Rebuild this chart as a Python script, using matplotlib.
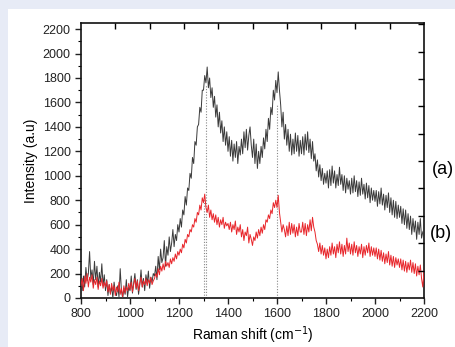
import numpy as np
import matplotlib
matplotlib.use("Agg")
import matplotlib.pyplot as plt
from matplotlib.patches import Rectangle
from matplotlib.ticker import MultipleLocator

plt.rcParams['font.family'] = ['Liberation Sans', 'DejaVu Sans']

shift = list(range(800, 2201, 5))

intensity_a = [
    120, 60, 180, 90, 250, 140, 200, 380, 160, 230, 110, 300, 150, 260, 90, 210, 130, 280, 100, 190,
    60, 150, 20, 110, 40, 90, 0, 130, 50, 20, 100, 10, 240, 60, 0, 80, 30, 150, 10, 90,
    60, 180, 40, 120, 200, 70, 150, 30, 110, 230, 90, 160, 60, 190, 120, 220, 80, 170, 130, 200,
    180, 260, 150, 340, 230, 400, 290, 330, 470, 260, 420, 350, 500, 380, 450, 560, 420, 520, 470, 600,
    540, 650, 580, 720, 680, 830, 760, 900, 880, 1020, 980, 1150, 1100, 1280, 1250, 1400, 1420, 1560, 1520, 1700,
    1700, 1820, 1760, 1890, 1720, 1800, 1640, 1720, 1560, 1650, 1480, 1580, 1400, 1520, 1350, 1450, 1280, 1400, 1250, 1360,
    1200, 1320, 1160, 1290, 1120, 1260, 1150, 1280, 1100, 1240, 1170, 1300, 1180, 1360, 1230, 1380, 1210, 1330, 1400, 1250,
    1150, 1300, 1100, 1260, 1060, 1200, 1100, 1240, 1150, 1310, 1220, 1380, 1280, 1470, 1380, 1560, 1500, 1700, 1620, 1780,
    1680, 1850, 1700, 1580, 1400, 1520, 1300, 1420, 1250, 1380, 1200, 1340, 1170, 1300, 1180, 1350, 1200, 1330, 1160, 1290,
    1180, 1320, 1170, 1340, 1210, 1360, 1190, 1300, 1140, 1280, 1120, 1180, 1040, 1130, 990, 1090, 960, 1060, 930, 1020,
    940, 1040, 900, 1050, 920, 1080, 940, 1040, 900, 1010, 920, 1070, 930, 1010, 880, 1000, 860, 980, 890, 960,
    850, 980, 860, 1000, 870, 960, 830, 950, 840, 980, 850, 930, 810, 940, 820, 920, 780, 900, 800, 880,
    790, 880, 750, 870, 770, 900, 760, 850, 720, 840, 740, 860, 700, 820, 680, 800, 660, 790, 650, 760,
    660, 750, 610, 730, 600, 720, 570, 690, 560, 670, 520, 650, 540, 630, 480, 620, 520, 650, 490, 540,
    560,
]

intensity_b = [
    100, 160, 60, 180, 120, 200, 90, 170, 130, 190, 80, 150, 110, 170, 70, 140, 100, 160, 80, 130,
    90, 140, 50, 110, 30, 120, 60, 100, 20, 90, 50, 130, 30, 80, 10, 100, 40, 90, 60, 120,
    70, 130, 50, 110, 160, 80, 140, 60, 120, 170, 90, 140, 110, 160, 100, 150, 120, 170, 110, 140,
    160, 200, 170, 240, 190, 260, 220, 280, 230, 300, 260, 290, 250, 320, 280, 330, 300, 360, 320, 380,
    350, 400, 370, 440, 410, 480, 450, 520, 500, 560, 540, 600, 580, 650, 620, 700, 680, 760, 720, 820,
    780, 850, 740, 700, 760, 660, 720, 640, 690, 620, 680, 600, 660, 580, 640, 600, 660, 570, 620, 590,
    610, 560, 620, 540, 600, 560, 630, 520, 580, 540, 600, 500, 560, 470, 540, 510, 580, 450, 520, 480,
    430, 500, 470, 540, 490, 560, 510, 580, 530, 600, 560, 640, 620, 680, 650, 720, 690, 780, 740, 800,
    740, 840, 700, 620, 540, 600, 560, 500, 590, 510, 620, 520, 610, 530, 600, 500, 580, 510, 610, 540,
    540, 620, 520, 610, 510, 600, 540, 640, 550, 660, 580, 540, 470, 440, 380, 450, 360, 430, 350, 410,
    320, 400, 330, 420, 350, 450, 360, 420, 330, 440, 370, 460, 360, 440, 340, 430, 360, 490, 380, 450,
    360, 440, 350, 460, 370, 430, 340, 420, 360, 440, 330, 420, 350, 430, 370, 450, 340, 420, 350, 410,
    340, 410, 320, 400, 310, 390, 300, 370, 280, 360, 290, 380, 270, 350, 260, 340, 250, 330, 270, 320,
    250, 320, 230, 310, 220, 300, 210, 290, 230, 310, 210, 290, 200, 280, 180, 260, 190, 270, 160, 90,
    220,
]

peak_pos = [1300, 1310, 1600]
peak_top = [820, 1740, 1580]

series_labels = ["(a)", "(b)"]
x_ticks = [800, 1000, 1200, 1400, 1600, 1800, 2000, 2200]
y_ticks = list(range(0, 2201, 200))

fig = plt.figure(figsize=(4.55, 3.47), dpi=100)
fig.patch.set_facecolor('#E7EBF6')
fig.patches.append(Rectangle((8/455, 0), 1 - 8/455, 1 - 9/347, transform=fig.transFigure,
                             facecolor='white', edgecolor='none', zorder=-10))

ax = fig.add_axes([81/455, 49/347, 343/455, 275/347])
ax.set_facecolor('none')

ax.vlines(peak_pos, 0, peak_top, colors='#888888', linestyles=(0, (1, 1.5)), linewidth=0.8, zorder=1)
ax.plot(shift, intensity_a, color='#3a3a3a', linewidth=0.7, zorder=3)
ax.plot(shift, intensity_b, color='#E8262B', linewidth=0.7, zorder=4)

ax.set_xlim(800, 2200)
ax.set_ylim(0, 2250)
ax.set_xticks(x_ticks)
ax.set_yticks(y_ticks)
ax.xaxis.set_minor_locator(MultipleLocator(100))
ax.yaxis.set_minor_locator(MultipleLocator(100))
ax.tick_params(which='major', direction='out', length=4, width=1, labelsize=9, colors='#222222')
ax.tick_params(which='minor', direction='out', length=2.5, width=0.8)
for s in ax.spines.values():
    s.set_linewidth(1.2)
    s.set_color('#111111')

ax.set_xlabel('Raman shift (cm$^{-1}$)', fontsize=10, labelpad=3)
ax.set_ylabel('Intensity (a.u)', fontsize=10, labelpad=3)

# top and right decorative ticks (inward)
axt = ax.twiny()
axt.set_xlim(800, 2200)
axt.set_xticks(list(range(940, 2200, 140)))
axt.tick_params(axis='x', direction='in', length=4, width=1, labeltop=False)
axr = ax.twinx()
axr.set_ylim(0, 2250)
axr.set_yticks(list(range(224, 2250, 224)))
axr.tick_params(axis='y', direction='in', length=4, width=1, labelright=False)
for a in (axt, axr):
    a.set_facecolor('none')
    for s in a.spines.values():
        s.set_visible(False)

fig.text(432/455, 1 - 170/347, series_labels[0], fontsize=13, va='center', ha='left')
fig.text(430/455, 1 - 233/347, series_labels[1], fontsize=13, va='center', ha='left')

fig.savefig('out.png', dpi=100)
